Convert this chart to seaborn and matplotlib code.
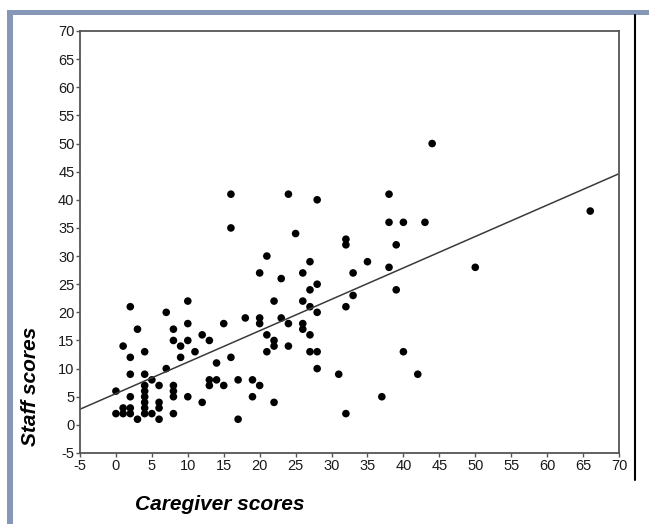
import numpy as np
import pandas as pd
import matplotlib
matplotlib.use("Agg")
import matplotlib.pyplot as plt
import seaborn as sns
from matplotlib.patches import Rectangle
from matplotlib.lines import Line2D

caregiver = [0, 0,
             1, 1, 1,
             2, 2, 2, 2, 2, 2,
             3, 3,
             4, 4, 4, 4, 4, 4, 4, 4,
             5, 5,
             6, 6, 6, 6,
             7, 7,
             8, 8, 8, 8, 8, 8,
             9, 9,
             10, 10, 10, 10,
             11,
             12, 12,
             13, 13, 13,
             14, 14,
             15, 15,
             16, 16, 16,
             17, 17,
             18,
             19, 19,
             20, 20, 20, 20,
             21, 21, 21,
             22, 22, 22, 22,
             23, 23,
             24, 24, 24,
             25,
             26, 26, 26, 26,
             27, 27, 27, 27, 27,
             28, 28, 28, 28, 28,
             31,
             32, 32, 32, 32,
             33, 33,
             35,
             37,
             38, 38, 38,
             39, 39,
             40, 40,
             42,
             43,
             44,
             50,
             66]
staff = [6, 2,
         14, 3, 2,
         21, 12, 9, 5, 3, 2,
         17, 1,
         13, 9, 7, 6, 5, 4, 3, 2,
         8, 2,
         7, 4, 3, 1,
         20, 10,
         17, 15, 7, 6, 5, 2,
         14, 12,
         22, 18, 15, 5,
         13,
         16, 4,
         15, 8, 7,
         11, 8,
         18, 7,
         41, 35, 12,
         8, 1,
         19,
         8, 5,
         27, 19, 18, 7,
         30, 16, 13,
         22, 15, 14, 4,
         26, 19,
         41, 18, 14,
         34,
         27, 22, 18, 17,
         29, 24, 21, 16, 13,
         40, 25, 20, 13, 10,
         9,
         33, 32, 21, 2,
         27, 23,
         29,
         5,
         41, 36, 28,
         32, 24,
         36, 13,
         9,
         36,
         50,
         28,
         38]

x_ticks = list(range(-5, 71, 5))
y_ticks = list(range(-5, 71, 5))

df = pd.DataFrame({"Caregiver scores": caregiver, "Staff scores": staff})

sns.set_style("white")
plt.rcParams['font.family'] = ['Liberation Sans', 'DejaVu Sans']

W, H = 649, 524
fig = plt.figure(figsize=(W / 100, H / 100), dpi=100)
fig.patch.set_facecolor("white")

# blue frame
blue = "#8797b8"
fig.add_artist(Rectangle((7 / W, 0), 6 / W, 1 - 10 / H, transform=fig.transFigure,
                         facecolor=blue, edgecolor="none", zorder=0))
fig.add_artist(Rectangle((7 / W, 1 - 15 / H), 1 - 7 / W, 5 / H, transform=fig.transFigure,
                         facecolor=blue, edgecolor="none", zorder=0))
# black right line
fig.add_artist(Line2D([635 / W, 635 / W], [1 - 480 / H, 1 - 15 / H], transform=fig.transFigure,
                      color="black", lw=1.5))

ax = fig.add_axes([80 / W, 1 - 453 / H, (619 - 80) / W, (453 - 31) / H])
ax.set_xlim(-5, 70)
ax.set_ylim(-5, 70)
sns.regplot(data=df, x="Caregiver scores", y="Staff scores", ax=ax, ci=None, truncate=False,
            scatter_kws=dict(s=30, color="black", edgecolors="none", alpha=1),
            line_kws=dict(color="#3a3a3a", lw=1.1))

ax.set_xlim(-5, 70)
ax.set_ylim(-5, 70)
ax.set_xticks(x_ticks)
ax.set_yticks(y_ticks)
ax.set_xticklabels([str(t) for t in x_ticks])
ax.set_yticklabels([str(t) for t in y_ticks])
ax.tick_params(axis="both", which="major", direction="out", length=3, width=1,
               color="#555555", labelsize=10.5, labelcolor="#1a1a1a", pad=1)
ax.tick_params(bottom=True, left=True)
for sp in ax.spines.values():
    sp.set_color("#555555")
    sp.set_linewidth(1.3)
    sp.set_visible(True)
ax.set_xlabel("")
ax.set_ylabel("")

fig.text(30 / W, 1 - 386 / H, "Staff scores", rotation=90, ha="center", va="center",
         fontsize=15, fontweight="bold", fontstyle="italic", color="black")
fig.text(220 / W, 1 - 504 / H, "Caregiver scores", ha="center", va="center",
         fontsize=15, fontweight="bold", fontstyle="italic", color="black")

fig.savefig("out.png", dpi=100, facecolor="white")
